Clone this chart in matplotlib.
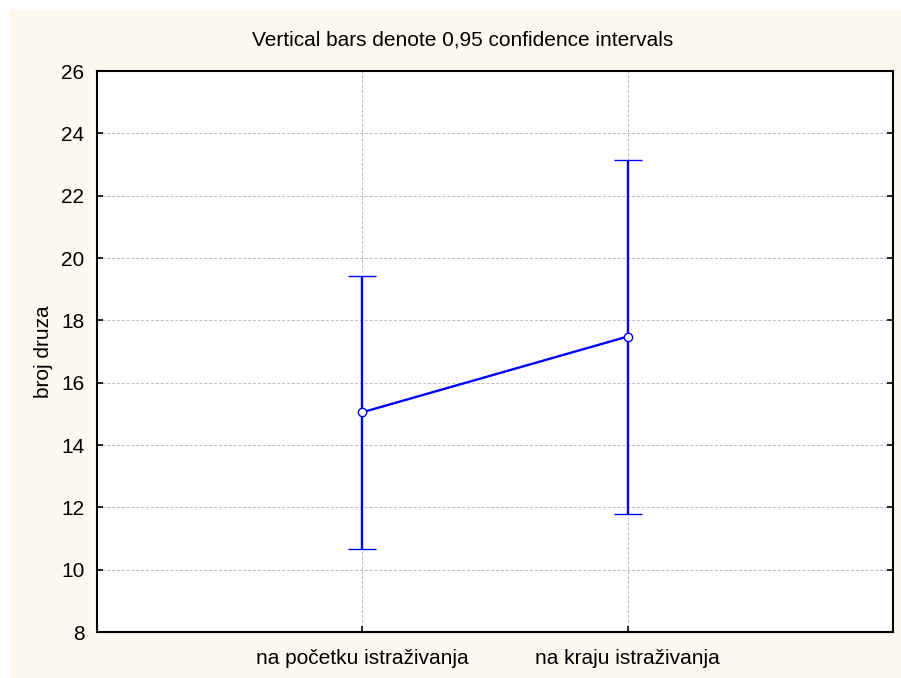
import matplotlib
matplotlib.use("Agg")
import matplotlib.pyplot as plt
from matplotlib.patches import Rectangle

categories = ["na početku istraživanja", "na kraju istraživanja"]
means = [15.05, 17.48]
ci_lower = [10.66, 11.79]
ci_upper = [19.42, 23.14]
yticks = [8, 10, 12, 14, 16, 18, 20, 22, 24, 26]

plt.rcParams['font.family'] = ['Liberation Sans', 'DejaVu Sans']

W, H = 901, 678
fig = plt.figure(figsize=(W / 100, H / 100), dpi=100, facecolor='white')
fig.patches.append(Rectangle((10 / W, 0), 1 - 10 / W, 1 - 10 / H, transform=fig.transFigure,
                             facecolor='#FDF9EE', edgecolor='none', zorder=-10))

ax = fig.add_axes([97 / W, (H - 632) / H, (893 - 97) / W, (632 - 71) / H])
ax.set_facecolor('white')

x = list(range(len(categories)))
yerr = [[m - l for m, l in zip(means, ci_lower)], [u - m for m, u in zip(means, ci_upper)]]
ax.errorbar(x, means, yerr=yerr, color='#0000FF', lw=1.7, capsize=10, capthick=1.7,
            marker='o', markersize=6, markerfacecolor='white', markeredgecolor='#0000FF',
            markeredgewidth=1.0, zorder=3)

ax.set_xlim(-1, 2)
ax.set_ylim(8, 26)
ax.set_xticks(x)
ax.set_xticklabels(categories, fontsize=15)
ax.set_yticks(yticks)
ax.set_yticklabels([str(t) for t in yticks], fontsize=15)
ax.tick_params(axis='y', direction='in', length=4, width=1.2, right=True, pad=9)
ax.tick_params(axis='x', direction='in', length=4, width=1.2, top=False, pad=12)
ax.grid(True, color='#BBBBBB', linestyle=(0, (3, 2)), linewidth=0.7)
for s in ax.spines.values():
    s.set_linewidth(1.5)
    s.set_color('black')

ax.set_ylabel("broj druza", fontsize=15, labelpad=6)
fig.text(463 / W, 1 - 40 / H, "Vertical bars denote 0,95 confidence intervals",
         fontsize=15, ha='center', va='center')

fig.savefig("out.png", dpi=100, facecolor=fig.get_facecolor())
